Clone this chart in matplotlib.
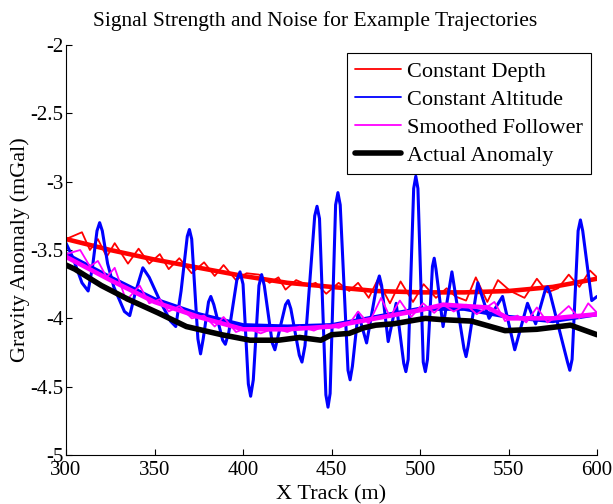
import matplotlib
matplotlib.use("Agg")
import matplotlib.pyplot as plt

# -----------------------------
# data
# -----------------------------

actual_x = [300, 305, 320, 335, 352, 368, 388, 404, 420, 432, 444, 450, 460, 468,
            475, 485, 503, 513, 529, 548, 566, 585, 600]
actual_y = [-3.61, -3.64, -3.76, -3.86, -3.96, -4.06, -4.12, -4.16, -4.16, -4.14,
            -4.16, -4.12, -4.11, -4.07, -4.05, -4.04, -4.00, -4.01, -4.02, -4.09,
            -4.08, -4.05, -4.12]

depth_smooth_x = [300, 325, 350, 375, 400, 425, 450, 475, 500, 525, 550, 575, 600]
depth_smooth_y = [-3.42, -3.50, -3.57, -3.63, -3.69, -3.74, -3.77, -3.80, -3.81,
                  -3.81, -3.80, -3.77, -3.71]

depth_x = [300, 309, 313.5, 318, 323, 327.5, 335, 341, 347, 353, 358, 364, 371, 378,
           384, 389, 396, 402, 409, 415, 420, 424, 430, 437, 441, 447, 454, 460, 465,
           471, 476, 483, 489, 496, 502, 509, 515, 520, 526, 531.5, 538, 544, 551,
           559, 566, 572, 578, 584, 590, 596, 600]
depth_y = [-3.42, -3.37, -3.50, -3.42, -3.55, -3.45, -3.60, -3.49, -3.60, -3.53,
           -3.64, -3.56, -3.67, -3.59, -3.69, -3.61, -3.72, -3.67, -3.68, -3.74,
           -3.70, -3.79, -3.72, -3.76, -3.74, -3.82, -3.74, -3.80, -3.74, -3.85,
           -3.72, -3.89, -3.73, -3.88, -3.75, -3.85, -3.78, -3.84, -3.87, -3.70,
           -3.88, -3.72, -3.80, -3.85, -3.71, -3.81, -3.78, -3.68, -3.77, -3.65,
           -3.70]

alt_smooth_x = [300, 325, 350, 375, 400, 425, 450, 475, 500, 525, 550, 575, 600]
alt_smooth_y = [-3.53, -3.70, -3.86, -3.97, -4.05, -4.06, -4.05, -3.99, -3.93,
                -3.93, -3.99, -4.02, -3.97]

alt_x = [300, 304, 309, 312.5, 315, 317.5, 319, 320.5, 323.5, 327, 333, 336, 339,
         343.4, 347, 353, 359, 362, 365, 368.5, 369.7, 371, 374.5, 376, 377.5,
         380.5, 381.8, 383.5, 388.5, 390, 392, 396.5, 398.3, 400, 403, 404.3, 405.8,
         409, 410.5, 412, 416.5, 418, 420, 424, 425.5, 427, 431.8, 433.3, 435,
         440.5, 441.8, 443.2, 446.8, 448, 449.2, 452.3, 453.6, 454.9, 459.3, 460.5,
         461.8, 465, 469.8, 475.8, 477, 478.3, 482, 486.5, 490.8, 492, 493.3, 496.4,
         497.6, 498.8, 501.8, 503, 504.2, 507, 508, 509, 513, 518, 524.8, 526,
         527.2, 532.6, 539, 546.6, 553.5, 560.7, 565.3, 571, 572, 573.5, 583.3,
         584.6, 585.9, 589.3, 590.6, 591.9, 597, 600]
alt_y = [-3.45, -3.56, -3.74, -3.80, -3.62, -3.36, -3.30, -3.36, -3.60, -3.77,
         -3.95, -3.98, -3.82, -3.63, -3.70, -3.87, -4.02, -4.06, -3.80, -3.40,
         -3.35, -3.42, -4.15, -4.26, -4.15, -3.88, -3.84, -3.90, -4.16, -4.19,
         -4.10, -3.72, -3.66, -3.75, -4.48, -4.57, -4.45, -3.76, -3.68, -3.76,
         -4.18, -4.23, -4.12, -3.90, -3.87, -3.93, -4.27, -4.32, -4.20, -3.25,
         -3.18, -3.27, -4.56, -4.65, -4.55, -3.17, -3.08, -3.17, -4.38, -4.45,
         -4.35, -3.96, -4.18, -3.74, -3.69, -3.76, -4.17, -3.89, -4.33, -4.39,
         -4.30, -3.05, -2.96, -3.05, -4.32, -4.39, -4.30, -3.62, -3.56, -3.64,
         -4.06, -3.66, -4.22, -4.28, -4.20, -3.74, -4.00, -3.84, -4.23, -3.89,
         -4.04, -3.78, -3.77, -3.82, -4.32, -4.38, -4.30, -3.36, -3.28, -3.36,
         -3.87, -3.84]

follow_smooth_x = [300, 325, 350, 375, 400, 425, 450, 475, 500, 513, 525, 538, 550,
                   575, 600]
follow_smooth_y = [-3.55, -3.72, -3.88, -3.99, -4.08, -4.08, -4.06, -4.00, -3.94,
                   -3.90, -3.91, -3.92, -4.00, -4.00, -3.97]

follow_x = [300, 308, 313.5, 318, 323, 327.5, 334, 341.6, 347, 353, 358, 364, 371,
            378, 384, 389, 396, 402, 410, 418, 425, 432, 440, 447, 454, 460, 465,
            471, 478, 483, 488.6, 495, 501.7, 508, 513, 519, 526, 532, 542, 548,
            555, 560, 566, 572, 578, 584, 590, 595, 600]
follow_y = [-3.53, -3.50, -3.62, -3.58, -3.70, -3.63, -3.87, -3.76, -3.89, -3.86,
            -3.95, -3.91, -4.00, -3.98, -4.06, -3.99, -4.10, -4.07, -4.11, -4.07,
            -4.10, -4.06, -4.09, -4.05, -4.07, -4.04, -3.95, -4.04, -3.85, -3.99,
            -3.87, -3.99, -3.89, -3.96, -3.90, -3.95, -3.90, -3.97, -3.88, -4.02,
            -3.98, -4.03, -3.92, -4.03, -3.98, -3.91, -4.00, -3.89, -3.96]

yticks = [-5, -4.5, -4, -3.5, -3, -2.5, -2]
ytick_labels = ["-5", "-4.5", "-4", "-3.5", "-3", "-2.5", "-2"]
xticks = [300, 350, 400, 450, 500, 550, 600]

# -----------------------------
# plot
# -----------------------------

plt.rcParams["font.family"] = ["Liberation Serif", "DejaVu Serif"]

fig = plt.figure(figsize=(6.13, 5.04), dpi=100)
ax = fig.add_axes([0.1077, 0.0972, 0.8663, 0.8135])

red, blue, mag = "#ff0000", "#0000ff", "#ff00ff"
kw = dict(solid_joinstyle="round", solid_capstyle="round")

ax.plot(depth_smooth_x, depth_smooth_y, color=red, lw=3.3, **kw)
h_red, = ax.plot(depth_x, depth_y, color=red, lw=1.3, label="Constant Depth", **kw)
h_blue, = ax.plot(alt_x, alt_y, color=blue, lw=2.2, label="Constant Altitude", **kw)
ax.plot(alt_smooth_x, alt_smooth_y, color=blue, lw=3.0, **kw)
ax.plot(follow_smooth_x, follow_smooth_y, color=mag, lw=3.3, **kw)
h_mag, = ax.plot(follow_x, follow_y, color=mag, lw=1.3, label="Smoothed Follower", **kw)
h_blk, = ax.plot(actual_x, actual_y, color="black", lw=4.0, label="Actual Anomaly", **kw)

ax.set_xlim(300, 600)
ax.set_ylim(-5, -2)
ax.set_xticks(xticks)
ax.set_yticks(yticks)
ax.set_yticklabels(ytick_labels)
ax.spines["top"].set_visible(False)
ax.spines["right"].set_visible(False)
ax.tick_params(direction="in", length=4, labelsize=15, pad=2)
ax.tick_params(axis="x", pad=4)

ax.set_title("Signal Strength and Noise for Example Trajectories", fontsize=15.5,
             pad=14, x=0.47)
ax.set_xlabel("X Track (m)", fontsize=16, labelpad=4)
ax.set_ylabel("Gravity Anomaly (mGal)", fontsize=16, labelpad=0)

handles = [h_red, h_blue, h_mag, h_blk]
leg = ax.legend(handles=handles, loc="upper right", bbox_to_anchor=(0.988, 0.98),
                borderaxespad=0, fontsize=16, fancybox=False, framealpha=1,
                edgecolor="black", handlelength=2.1, handletextpad=0.25,
                labelspacing=0.34, borderpad=0.35)
leg.get_frame().set_linewidth(0.8)
for line in leg.get_lines()[:3]:
    line.set_linewidth(1.3)

fig.savefig("out.png", dpi=100)
